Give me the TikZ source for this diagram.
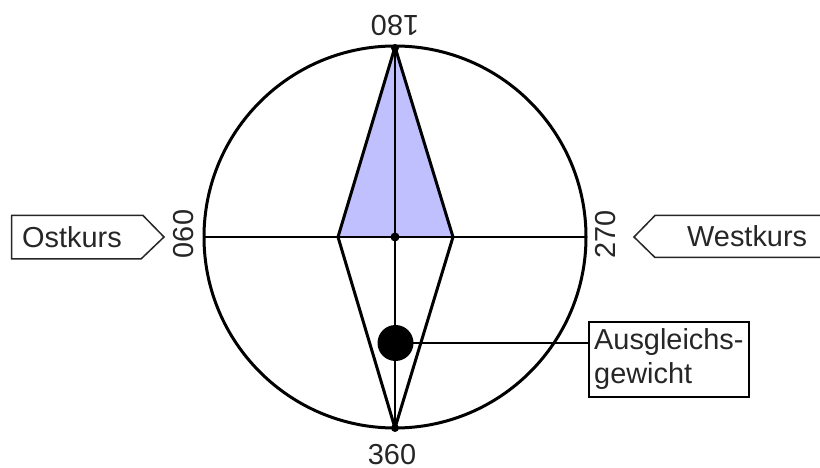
\documentclass[tikz,border=0pt]{standalone}
\usepackage{fontspec}
\setmainfont{Liberation Sans}
\definecolor{needle}{RGB}{192,192,255}
\tikzset{
  thick line/.style={line width=3bp,black},
  thin line/.style={line width=1.7bp,black},
  tag line/.style={line width=1.5bp,black!85},
  lbl/.style={inner sep=0pt,font=\fontsize{29}{33}\selectfont,text=black!85}
}
\begin{document}
\begin{tikzpicture}[x=1bp,y=-1bp]
\useasboundingbox (0,0) rectangle (820,468);
\fill[white] (0,0) rectangle (820,468);
\coordinate (c) at (395,237);
\coordinate (n) at (395,47);
\coordinate (s) at (395,428);
\coordinate (w) at (338,237);
\coordinate (e) at (453,237);
\coordinate (cw) at (204,237);
\coordinate (ce) at (586,237);
% upper needle fill
\fill[needle] (n) -- (e) -- (w) -- cycle;
% compass circle
\draw[thick line] (c) circle [radius=191];
% cross lines
\draw[thin line] (cw) -- (ce);
\draw[thin line] (n) -- (s);
% needle
\draw[thick line,line join=round] (n) -- (e) -- (s) -- (w) -- cycle;
\fill (c) circle [radius=4.5];
\fill (395,48) circle [radius=4];
\fill (s) circle [radius=4];
% weight
\node[circle,fill=black,minimum size=36bp,inner sep=0pt] (ball) at (395.5,343) {};
\node[draw=black,line width=1.5bp,minimum width=160bp,minimum height=75bp,inner sep=0pt] (box) at (669,359.5) {};
\draw[thin line] (ball.center) -- (ball.center -| box.west);
\node[lbl,anchor=base west] (a1) at (594,350) {Ausgleichs-};
\node[lbl,anchor=base west] (a2) at (594,384) {gewicht};
% tags
\draw[tag line] (11.5,215.5) -- (143,215.5) -- (164,237) -- (141,259) -- (11.5,259) -- cycle;
\node[lbl,anchor=base west] (ost) at (22,248) {Ostkurs};
\draw[tag line] (820,215.5) -- (655,215.5) -- (634,237) -- (655,257.5) -- (820,257.5);
\node[lbl,anchor=base west] (west) at (687,247) {Westkurs};
% scale labels
\node[lbl,rotate=180] (t180) at (395,25) {180};
\node[lbl,anchor=base] (t360) at (392,464) {360};
\node[lbl,rotate=90] (t060) at (184,234) {060};
\node[lbl,rotate=90] (t270) at (606,234.5) {270};
\end{tikzpicture}
\end{document}
